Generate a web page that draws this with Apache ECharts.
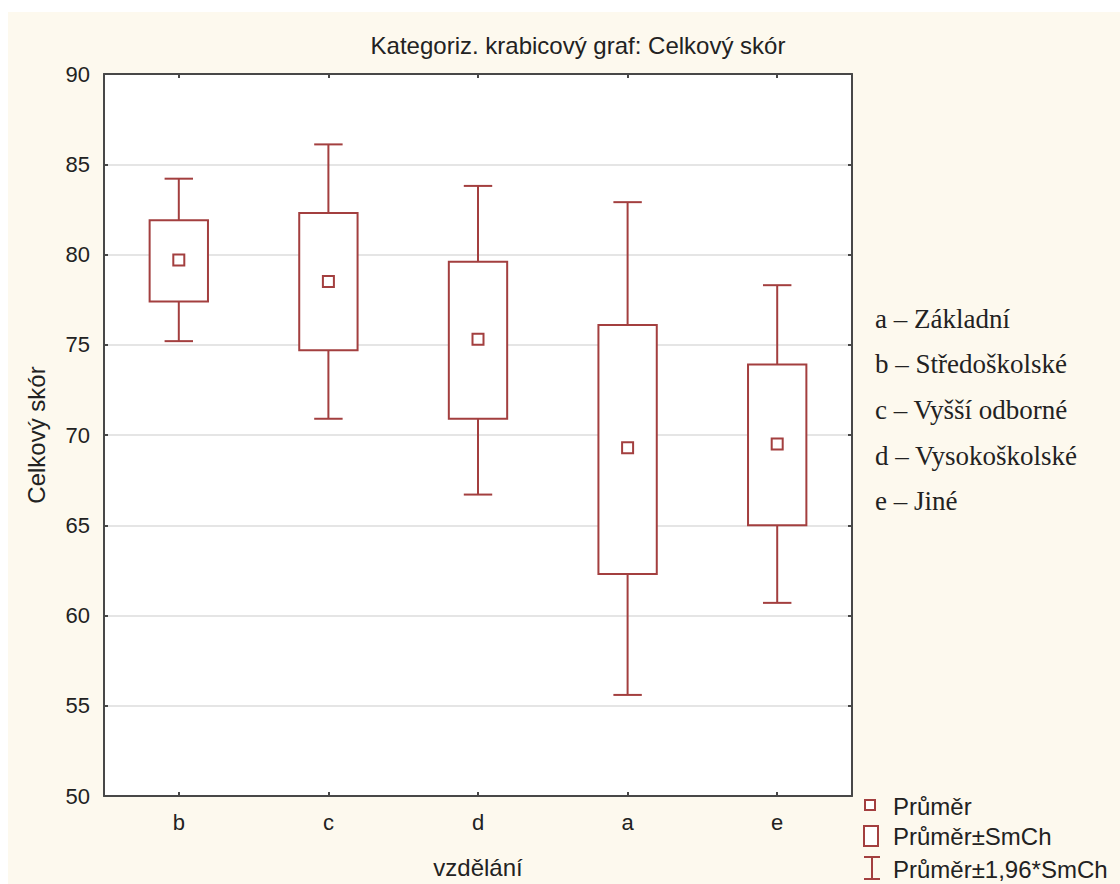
<!DOCTYPE html>
<html>
<head>
<meta charset="utf-8">
<script src="https://cdn.jsdelivr.net/npm/echarts@6/dist/echarts.min.js"></script>
<style>
  html, body { margin: 0; padding: 0; background: #ffffff; }
  #wrap { position: relative; width: 1120px; height: 884px; background: #ffffff; }
  #chart { position: absolute; left: 8px; top: 12px; width: 1112px; height: 872px; background: #fdf9ee; }
</style>
</head>
<body>
<div id="wrap"><div id="chart"></div></div>
<script>
// ---- data ----
const categories = ['b', 'c', 'd', 'a', 'e'];
const means      = [79.7, 78.5, 75.3, 69.3, 69.5];
const seLow      = [77.4, 74.7, 70.9, 62.3, 65.0];   // Průměr - SmCh
const seHigh     = [81.9, 82.3, 79.6, 76.1, 73.9];   // Průměr + SmCh
const ciLow      = [75.2, 70.9, 66.7, 55.6, 60.7];   // Průměr - 1,96*SmCh
const ciHigh     = [84.2, 86.1, 83.8, 82.9, 78.3];   // Průměr + 1,96*SmCh
const yTicks     = [50, 55, 60, 65, 70, 75, 80, 85, 90];
const keyLines   = ['a – Základní', 'b – Středoškolské', 'c – Vyšší odborné', 'd – Vysokoškolské', 'e – Jiné'];
const legendNames = ['Průměr', 'Průměr±SmCh', 'Průměr±1,96*SmCh'];
const titleText  = 'Kategoriz. krabicový graf: Celkový skór';

const RED = '#a33f3f';
const SANS = 'Liberation Sans, Arial, sans-serif';
const SERIF = 'Liberation Serif, Times New Roman, serif';

const boxData = categories.map((c, i) => [i, ciLow[i], seLow[i], seHigh[i], ciHigh[i]]);
const meanData = categories.map((c, i) => [i, means[i]]);

const chart = echarts.init(document.getElementById('chart'), null, { renderer: 'svg' });

function renderBox(params, api) {
  const x = api.value(0);
  const pLo = api.coord([x, api.value(1)]);
  const pQ1 = api.coord([x, api.value(2)]);
  const pQ3 = api.coord([x, api.value(3)]);
  const pHi = api.coord([x, api.value(4)]);
  const band = api.size([1, 0])[0];
  const bw = band * 0.39;
  const cw = band * 0.19;
  const cx = pLo[0];
  const st = { stroke: RED, lineWidth: 2, fill: null };
  return {
    type: 'group',
    children: [
      { type: 'line', shape: { x1: cx, y1: pHi[1], x2: cx, y2: pQ3[1] }, style: st },
      { type: 'line', shape: { x1: cx, y1: pQ1[1], x2: cx, y2: pLo[1] }, style: st },
      { type: 'line', shape: { x1: cx - cw / 2, y1: pHi[1], x2: cx + cw / 2, y2: pHi[1] }, style: st },
      { type: 'line', shape: { x1: cx - cw / 2, y1: pLo[1], x2: cx + cw / 2, y2: pLo[1] }, style: st },
      { type: 'rect', shape: { x: cx - bw / 2, y: pQ3[1], width: bw, height: pQ1[1] - pQ3[1] },
        style: { stroke: RED, lineWidth: 2, fill: '#ffffff' } }
    ]
  };
}

const graphics = [];
// title
graphics.push({ type: 'text', x: 570, y: 33,
  style: { text: titleText, font: '24px ' + SANS, fill: '#222', align: 'center', verticalAlign: 'middle' } });
// key text block on right
keyLines.forEach((t, i) => {
  graphics.push({ type: 'text', x: 867, y: [307, 352, 398, 444, 489][i],
    style: { text: t, font: '27px ' + SERIF, fill: '#222', verticalAlign: 'middle', align: 'left' } });
});
// legend markers (bottom right)
graphics.push({ type: 'rect', shape: { x: 857, y: 788, width: 10, height: 10 }, style: { stroke: RED, lineWidth: 2, fill: '#fff' } });
graphics.push({ type: 'rect', shape: { x: 856, y: 814, width: 14, height: 20 }, style: { stroke: RED, lineWidth: 2, fill: '#fff' } });
graphics.push({ type: 'line', shape: { x1: 864, y1: 845, x2: 864, y2: 867 }, style: { stroke: RED, lineWidth: 2 } });
graphics.push({ type: 'line', shape: { x1: 856, y1: 845, x2: 872, y2: 845 }, style: { stroke: RED, lineWidth: 2 } });
graphics.push({ type: 'line', shape: { x1: 856, y1: 867, x2: 872, y2: 867 }, style: { stroke: RED, lineWidth: 2 } });
legendNames.forEach((t, i) => {
  graphics.push({ type: 'text', x: 885, y: [794, 824, 857][i],
    style: { text: t, font: '24px ' + SANS, fill: '#222', verticalAlign: 'middle', align: 'left' } });
});

const axisLineStyle = { color: '#484848', width: 2 };

chart.setOption({
  animation: false,
  backgroundColor: 'transparent',
  grid: { left: 96, right: 268, top: 62, bottom: 87, show: true, backgroundColor: '#ffffff', borderWidth: 0 },
  xAxis: [
    {
      type: 'category', data: categories, position: 'bottom',
      name: 'vzdělání', nameLocation: 'middle', nameGap: 59,
      nameTextStyle: { fontFamily: SANS, fontSize: 24, color: '#222' },
      axisLine: { show: true, lineStyle: axisLineStyle },
      axisTick: { show: true, inside: true, length: 4, alignWithLabel: true, lineStyle: { color: '#484848', width: 2 } },
      axisLabel: { fontFamily: SANS, fontSize: 22, color: '#222', margin: 15 },
      splitLine: { show: false }
    },
    {
      type: 'category', data: categories, position: 'top',
      axisLine: { show: true, lineStyle: axisLineStyle },
      axisTick: { show: true, inside: true, length: 4, alignWithLabel: true, lineStyle: { color: '#484848', width: 2 } },
      axisLabel: { show: false }, splitLine: { show: false }
    }
  ],
  yAxis: [
    {
      type: 'value', min: yTicks[0], max: yTicks[yTicks.length - 1], interval: 5, position: 'left',
      name: 'Celkový skór', nameLocation: 'middle', nameGap: 56, nameRotate: 90,
      nameTextStyle: { fontFamily: SANS, fontSize: 24, color: '#222' },
      axisLine: { show: true, lineStyle: axisLineStyle },
      axisTick: { show: true, inside: true, length: 4, lineStyle: { color: '#484848', width: 2 } },
      axisLabel: { fontFamily: SANS, fontSize: 22, color: '#222', margin: 14 },
      splitLine: { show: true, lineStyle: { color: '#dcdcdc', width: 1.5 } }
    },
    {
      type: 'value', min: yTicks[0], max: yTicks[yTicks.length - 1], interval: 5, position: 'right',
      axisLine: { show: true, lineStyle: axisLineStyle },
      axisTick: { show: true, inside: true, length: 4, lineStyle: { color: '#484848', width: 2 } },
      axisLabel: { show: false }, splitLine: { show: false }
    }
  ],
  series: [
    {
      type: 'custom', name: 'box', xAxisIndex: 0, yAxisIndex: 0,
      data: boxData, renderItem: renderBox, encode: { x: 0, y: [1, 2, 3, 4] }, z: 2
    },
    {
      type: 'scatter', name: 'Průměr', xAxisIndex: 0, yAxisIndex: 0,
      data: meanData, symbol: 'rect', symbolSize: 11, z: 3,
      itemStyle: { color: '#ffffff', borderColor: RED, borderWidth: 2, opacity: 1 }
    }
  ],
  graphic: graphics
});
</script>
</body>
</html>
